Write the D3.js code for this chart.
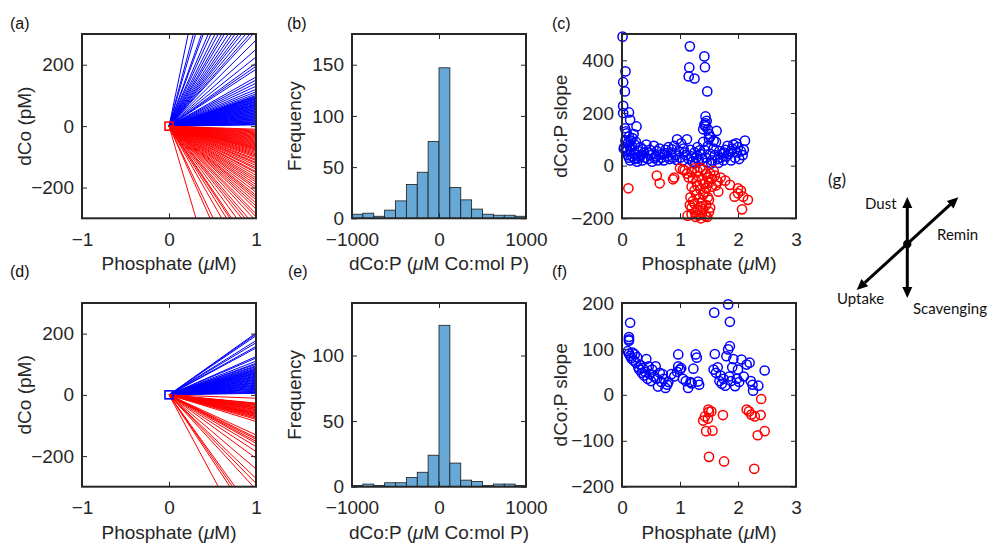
<!DOCTYPE html>
<html>
<head>
<meta charset="utf-8">
<script src="https://cdn.jsdelivr.net/npm/d3@7"></script>
<style>
  body { margin: 0; background: #fff; }
  svg { display: block; }
</style>
</head>
<body>
<svg id="fig" width="987" height="545"></svg>
<script>
// ---------- data ----------
// (a) dCo at 1 uM phosphate for each fitted profile (pM), positive and negative slopes
const fanTopPos = [1360, 1070, 980, 800, 760, 665, 620, 567, 530, 495, 470, 440, 415, 395, 375, 359, 340, 322, 310,
  280, 250, 225, 205, 195, 185, 160, 150, 140, 130, 120, 112, 105, 100,
  97, 95, 92, 90, 88, 85, 82, 80, 78, 75, 72, 70, 68, 65, 63, 60, 58, 55, 53, 50, 48, 45, 43, 40, 38, 35,
  33, 30, 28, 25, 23, 20, 18, 15, 13, 10, 8, 6, 4];
const fanTopNeg = [-968, -635, -590, -495, -453, -428, -416, -385, -359, -343, -329, -309,
  -295, -285, -270, -260, -250, -240, -232, -225, -215, -205, -198, -190, -182, -175, -168, -160, -152,
  -148, -140, -135, -128, -122, -118, -112, -108, -102, -98, -94, -90, -86, -82, -78, -75, -72, -70, -67,
  -64, -61, -58, -55, -52, -49, -46, -43, -40, -37, -34, -31, -28, -25, -22, -19, -16, -13, -10];
// (d) same for the second set
const fanBotPos = [202, 198, 193, 177, 170, 158, 153, 125, 120, 110, 103, 100, 95, 92, 88, 85, 82, 80, 77, 75,
  72, 70, 68, 65, 62, 60, 58, 55, 52, 50, 48, 45, 42, 40, 38, 35, 32, 30, 28, 25, 22, 20, 18, 15, 12, 10, 8, 5];
const fanBotNeg = [-529, -428, -410, -395, -309, -289, -273, -242, -207, -185, -169, -158, -152, -145, -140,
  -131, -87, -80, -76, -72, -70, -67, -64, -62, -60, -58, -55, -52, -49, -47, -44, -42, -40, -38, -35, -33,
  -30, -28, -27, -11];

// (b), (e) histogram of dCo:P
const histEdges = [-1000, -875, -750, -625, -500, -375, -250, -125, 0, 125, 250, 375, 500, 625, 750, 875, 1000];
const histCountsTop = [4, 5, 2, 8, 17, 33, 45, 75, 147, 30, 18, 9, 4, 3, 3, 2];
const histCountsBot = [1, 2, 1, 3, 3, 7, 11, 24, 123, 18, 5, 4, 1, 2, 2, 1];

// (c) slope vs phosphate, [phosphate, slope]
const slopeTopPos = [
  [0.01, 490], [1.17, 453], [1.42, 415], [1.16, 373], [1.43, 374], [1.15, 339], [1.25, 331], [1.47, 282],
  [0.06, 358], [0.02, 317], [0.05, 282], [0.02, 227], [0.02, 200], [0.12, 202],
  [1.44, 187], [1.44, 161], [1.40, 138], [1.48, 138], [1.44, 149], [1.46, 170], [1.42, 155], [1.63, 132],
  [1.52, 110], [1.58, 95], [1.50, 120],
  [0.25, 149], [0.14, 174], [0.05, 142], [0.08, 123], [0.12, 110], [0.18, 105], [0.06, 95], [0.10, 85],
  [0.03, 65], [0.04, 70], [0.07, 130], [0.15, 95], [0.20, 120], [0.09, 60], [0.13, 75], [0.22, 80],
  [0.08, 55], [0.10, 40], [0.12, 30], [0.14, 20], [0.15, 60], [0.17, 75], [0.20, 45], [0.22, 25],
  [0.24, 90], [0.26, 15], [0.28, 55], [0.30, 35], [0.32, 70], [0.35, 20], [0.38, 50], [0.40, 30],
  [0.42, 80], [0.45, 25], [0.48, 60], [0.50, 40], [0.52, 15], [0.55, 75], [0.58, 35], [0.60, 55],
  [0.62, 20], [0.65, 65], [0.68, 30], [0.70, 45], [0.72, 20], [0.75, 60], [0.78, 35], [0.80, 70],
  [0.82, 25], [0.85, 50], [0.88, 30], [0.90, 75], [0.92, 40], [0.95, 100], [0.98, 55], [1.00, 30],
  [1.02, 85], [1.05, 20], [1.08, 50], [1.10, 40], [1.12, 100], [1.15, 25], [1.18, 60], [1.20, 35],
  [1.22, 15], [1.25, 50], [1.28, 30], [1.30, 70], [1.32, 20], [1.35, 45], [1.38, 25], [1.40, 90],
  [1.42, 60], [1.45, 30], [1.48, 75], [1.50, 100], [1.52, 45], [1.55, 20], [1.58, 65], [1.60, 40],
  [1.62, 90], [1.65, 25], [1.68, 55], [1.70, 30], [1.72, 45], [1.75, 20], [1.78, 60], [1.80, 35],
  [1.82, 75], [1.85, 45], [1.88, 20], [1.90, 65], [1.92, 80], [1.95, 30], [1.98, 50], [2.00, 70],
  [2.02, 25], [2.05, 55], [2.08, 40], [2.12, 95], [2.10, 60], [1.97, 85], [1.88, 55], [1.66, 10],
  [1.54, 8], [0.33, 40], [0.46, 50], [0.56, 28], [0.66, 42], [0.86, 62], [1.06, 65], [1.26, 10],
  [0.18, 35], [0.27, 28], [0.36, 62], [0.74, 48], [0.94, 22], [1.34, 58], [1.46, 12], [1.76, 50]
];
const slopeTopNeg = [
  [0.11, -86], [0.60, -38], [0.65, -67], [0.88, -52], [0.90, -45], [1.00, -10], [1.05, -15], [1.08, -18],
  [1.12, -30], [1.15, -45], [1.20, -25], [1.25, -10], [1.30, -20], [1.35, -8], [1.40, -15], [1.45, -30],
  [1.22, -50], [1.28, -60], [1.32, -40], [1.38, -55], [1.42, -70], [1.48, -45], [1.20, -80], [1.25, -95],
  [1.30, -75], [1.35, -90], [1.40, -110], [1.45, -85], [1.50, -65], [1.18, -120], [1.22, -135], [1.28, -110],
  [1.33, -125], [1.38, -140], [1.43, -100], [1.48, -120], [1.17, -150], [1.20, -160], [1.25, -145],
  [1.30, -170], [1.35, -155], [1.40, -165], [1.45, -150], [1.13, -190], [1.20, -185], [1.27, -195],
  [1.32, -188], [1.38, -180], [1.44, -191], [1.50, -175], [1.26, -178], [1.52, -30], [1.55, -50],
  [1.58, -20], [1.60, -38], [1.65, -60], [1.55, -80], [1.62, -75], [1.66, -99], [1.70, -45], [1.78, -57],
  [1.86, -73], [1.94, -118], [2.00, -86], [2.00, -105], [2.05, -95], [2.09, -118], [2.17, -130],
  [2.07, -166], [1.50, -130], [1.52, -160], [1.47, -195], [1.36, -200]
];
// (f) second set
const slopeBotPos = [
  [1.83, 197], [1.59, 179], [1.86, 159], [0.14, 157], [0.12, 126], [0.12, 121], [0.12, 118],
  [0.10, 95], [0.12, 90], [0.14, 85], [0.16, 80], [0.18, 92], [0.20, 75], [0.22, 88], [0.24, 70],
  [0.26, 82], [0.28, 60], [0.30, 55], [0.32, 65], [0.34, 48], [0.36, 58], [0.38, 42], [0.40, 50],
  [0.42, 78], [0.44, 35], [0.46, 62], [0.48, 45], [0.50, 30], [0.52, 55], [0.55, 40], [0.58, 62],
  [0.60, 35], [0.62, 18], [0.65, 48], [0.68, 28], [0.70, 45], [0.72, 35], [0.75, 15], [0.78, 22],
  [0.80, 28], [0.85, 45], [0.90, 40], [0.95, 50], [0.97, 62], [0.97, 88], [1.00, 55], [1.02, 58],
  [1.05, 35], [1.10, 30], [1.14, 15], [1.18, 28], [1.20, 25], [1.23, 57], [1.27, 88], [1.29, 81],
  [1.31, 29], [1.33, 22],
  [1.60, 89], [1.58, 55], [1.62, 48], [1.65, 60], [1.68, 30], [1.70, 42], [1.72, 24], [1.75, 35],
  [1.78, 20], [1.80, 84], [1.83, 99], [1.86, 106], [1.85, 40], [1.88, 30], [1.90, 60], [1.92, 78],
  [1.95, 19], [1.98, 35], [2.00, 55], [2.02, 28], [2.06, 77], [2.10, 40], [2.15, 66], [2.20, 70],
  [2.22, 30], [2.25, 22], [2.26, 9], [2.35, 20], [2.46, 53]
];
const slopeBotNeg = [
  [2.40, -9], [1.49, -32], [1.50, -37], [1.54, -36], [1.43, -47], [1.48, -52], [1.40, -56], [1.74, -44],
  [2.15, -32], [2.19, -36], [2.23, -43], [2.29, -47], [2.39, -44], [1.45, -79], [1.56, -78], [2.46, -79],
  [2.34, -88], [1.50, -135], [1.76, -145], [2.28, -161]
];

const tickFont = "'Liberation Sans', Arial, Helvetica, sans-serif";
const ink = "#262626";
const blue = "#0000ff", red = "#ff0000";
const barFill = "#66a9d7";

// ---------- layout ----------
const svg = d3.select("#fig");
const colX = [82, 352, 622];
const boxW = 174;
const rows = [{ top: 34, bottom: 218.3 }, { top: 303, bottom: 486.7 }];

function makeAxes(col, row, xDom, yDom, xTicks, yTicks) {
  const x0 = colX[col], r = rows[row];
  const x = d3.scaleLinear().domain(xDom).range([x0, x0 + boxW]);
  const y = d3.scaleLinear().domain(yDom).range([r.bottom, r.top]);
  return { x, y, xTicks, yTicks, x0, r };
}

function drawFrame(ax) {
  const { x, y, xTicks, yTicks, r } = ax;
  const g = svg.append("g");
  const fmt = d3.format("d");
  const tk = -5;
  const bottom = d3.axisBottom(x).tickValues(xTicks).tickSizeInner(tk).tickSizeOuter(0).tickPadding(14).tickFormat(fmt);
  const top = d3.axisTop(x).tickValues(xTicks).tickSizeInner(tk).tickSizeOuter(0).tickFormat("");
  const left = d3.axisLeft(y).tickValues(yTicks).tickSizeInner(tk).tickSizeOuter(0).tickPadding(8).tickFormat(fmt);
  const right = d3.axisRight(y).tickValues(yTicks).tickSizeInner(tk).tickSizeOuter(0).tickFormat("");
  const style = sel => {
    sel.select(".domain").remove();
    sel.selectAll(".tick line").attr("stroke", ink).attr("stroke-width", 1);
    sel.selectAll(".tick text").attr("fill", ink).style("font-family", tickFont).style("font-size", "19px");
  };
  g.append("g").attr("transform", `translate(0,${r.bottom})`).call(bottom).call(style);
  g.append("g").attr("transform", `translate(0,${r.top})`).call(top).call(style);
  g.append("g").attr("transform", `translate(${x.range()[0]},0)`).call(left).call(style);
  g.append("g").attr("transform", `translate(${x.range()[1]},0)`).call(right).call(style);
  g.append("rect")
    .attr("x", x.range()[0]).attr("y", r.top)
    .attr("width", x.range()[1] - x.range()[0]).attr("height", r.bottom - r.top)
    .attr("fill", "none").attr("stroke", ink).attr("stroke-width", 2);
}

function addClip(ax, id) {
  const { x, r } = ax;
  svg.append("clipPath").attr("id", id).append("rect")
    .attr("x", x.range()[0]).attr("y", r.top)
    .attr("width", x.range()[1] - x.range()[0]).attr("height", r.bottom - r.top);
}

function axisLabels(ax, xLabelParts, yLabel, yOffset) {
  const { x, r } = ax;
  const cx = (x.range()[0] + x.range()[1]) / 2;
  const t = svg.append("text")
    .attr("x", cx).attr("y", r.bottom + 52)
    .attr("text-anchor", "middle").attr("fill", ink)
    .style("font-family", tickFont).style("font-size", "19px");
  xLabelParts.forEach(p => {
    t.append("tspan").text(p.t).style("font-style", p.it ? "italic" : "normal");
  });
  svg.append("text")
    .attr("transform", `translate(${x.range()[0] - yOffset},${(r.top + r.bottom) / 2}) rotate(-90)`)
    .attr("text-anchor", "middle").attr("fill", ink)
    .style("font-family", tickFont).style("font-size", "19px")
    .text(yLabel);
}

function panelTag(label, px, py) {
  svg.append("text").attr("x", px).attr("y", py).attr("fill", "#111")
    .style("font-family", tickFont).style("font-size", "16px").text(label);
}

const phosLabel = [{ t: "Phosphate (" }, { t: "\u03bc", it: true }, { t: "M)" }];
const ratioLabel = [{ t: "dCo:P (" }, { t: "\u03bc", it: true }, { t: "M Co:mol P)" }];

// ---------- fan panels ----------
function fanPanel(col, row, pos, neg, markerColor, clipId) {
  const ax = makeAxes(col, row, [-1, 1], [-300, 300], [-1, 0, 1], [-200, 0, 200]);
  addClip(ax, clipId);
  const line = d3.line().x(d => ax.x(d[0])).y(d => ax.y(d[1]));
  const g = svg.append("g").attr("clip-path", `url(#${clipId})`);
  g.selectAll("path.pos").data(pos).join("path").attr("class", "pos")
    .attr("d", s => line([[0, 0], [1, s]]))
    .attr("fill", "none").attr("stroke", blue).attr("stroke-width", 1);
  g.selectAll("path.neg").data(neg).join("path").attr("class", "neg")
    .attr("d", s => line([[0, 0], [1, s]]))
    .attr("fill", "none").attr("stroke", red).attr("stroke-width", 1);
  svg.append("rect")
    .attr("x", ax.x(0) - 4).attr("y", ax.y(0) - 4).attr("width", 8).attr("height", 8)
    .attr("fill", "none").attr("stroke", markerColor).attr("stroke-width", 1.6);
  drawFrame(ax);
  axisLabels(ax, phosLabel, "dCo (pM)", 51);
}

fanPanel(0, 0, fanTopPos, fanTopNeg, red, "clipA");
fanPanel(0, 1, fanBotPos, fanBotNeg, blue, "clipD");

// ---------- histogram panels ----------
function histPanel(col, row, counts, yMax, yTicks) {
  const ax = makeAxes(col, row, [-1000, 1000], [0, yMax], [-1000, 0, 1000], yTicks);
  const bins = counts.map((c, i) => ({ x0: histEdges[i], x1: histEdges[i + 1], n: c }));
  svg.append("g").selectAll("rect").data(bins).join("rect")
    .attr("x", d => ax.x(d.x0)).attr("width", d => ax.x(d.x1) - ax.x(d.x0))
    .attr("y", d => ax.y(d.n)).attr("height", d => ax.y(0) - ax.y(d.n))
    .attr("fill", barFill).attr("stroke", "#1a1a1a").attr("stroke-width", 0.8);
  drawFrame(ax);
  axisLabels(ax, ratioLabel, "Frequency", 51);
}

histPanel(1, 0, histCountsTop, 180, [0, 50, 100, 150]);
histPanel(1, 1, histCountsBot, 140, [0, 50, 100]);

// ---------- scatter panels ----------
function scatterPanel(col, row, pos, neg, yDom, yTicks) {
  const ax = makeAxes(col, row, [0, 3], yDom, [0, 1, 2, 3], yTicks);
  const g = svg.append("g");
  g.selectAll("circle.pos").data(pos).join("circle").attr("class", "pos")
    .attr("cx", d => ax.x(d[0])).attr("cy", d => ax.y(d[1])).attr("r", 4.6)
    .attr("fill", "none").attr("stroke", blue).attr("stroke-width", 1.5);
  g.selectAll("circle.neg").data(neg).join("circle").attr("class", "neg")
    .attr("cx", d => ax.x(d[0])).attr("cy", d => ax.y(d[1])).attr("r", 4.6)
    .attr("fill", "none").attr("stroke", red).attr("stroke-width", 1.5);
  drawFrame(ax);
  axisLabels(ax, phosLabel, "dCo:P slope", 55);
}

scatterPanel(2, 0, slopeTopPos, slopeTopNeg, [-200, 500], [-200, 0, 200, 400]);
scatterPanel(2, 1, slopeBotPos, slopeBotNeg, [-200, 200], [-200, -100, 0, 100, 200]);

// ---------- panel tags ----------
panelTag("(a)", 10, 29);
panelTag("(b)", 287, 29);
panelTag("(c)", 552, 29);
panelTag("(d)", 10, 277);
panelTag("(e)", 288, 277);
panelTag("(f)", 552, 277);

// ---------- (g) process vector diagram ----------
const diagFont = "Lato, 'Open Sans', sans-serif";
const gDiag = svg.append("g");
function arrow(x1, y1, x2, y2) {
  const ang = Math.atan2(y2 - y1, x2 - x1);
  const head = 11, half = 5;
  const back = (px, py, dir) => [px - dir * Math.cos(ang) * head, py - dir * Math.sin(ang) * head];
  const [ax1, ay1] = back(x2, y2, 1);
  const [bx1, by1] = back(x1, y1, -1);
  gDiag.append("line").attr("x1", bx1).attr("y1", by1).attr("x2", ax1).attr("y2", ay1)
    .attr("stroke", "#000").attr("stroke-width", 3);
  const tri = (tx, ty, dir) => {
    const bx = tx - dir * Math.cos(ang) * head, by = ty - dir * Math.sin(ang) * head;
    const nx = -Math.sin(ang) * half, ny = Math.cos(ang) * half;
    return [[tx, ty], [bx + nx, by + ny], [bx - nx, by - ny]];
  };
  [tri(x2, y2, 1), tri(x1, y1, -1)].forEach(p => {
    gDiag.append("polygon").attr("points", p.map(q => q.join(",")).join(" ")).attr("fill", "#000");
  });
}
arrow(907.3, 298, 907.3, 197);
arrow(856.7, 290, 958.3, 197.3);
gDiag.append("circle").attr("cx", 907.3).attr("cy", 244).attr("r", 4.2).attr("fill", "#000");

const diagLabels = [
  { t: "(g)", x: 828, y: 186, s: 17 },
  { t: "Dust", x: 865, y: 209, s: 15 },
  { t: "Remin", x: 937, y: 240, s: 15 },
  { t: "Uptake", x: 837, y: 304, s: 15 },
  { t: "Scavenging", x: 913, y: 314, s: 15 }
];
gDiag.selectAll("text").data(diagLabels).join("text")
  .attr("x", d => d.x).attr("y", d => d.y).attr("fill", "#111")
  .style("font-family", diagFont).style("font-size", d => d.s + "px")
  .text(d => d.t);
</script>
</body>
</html>
